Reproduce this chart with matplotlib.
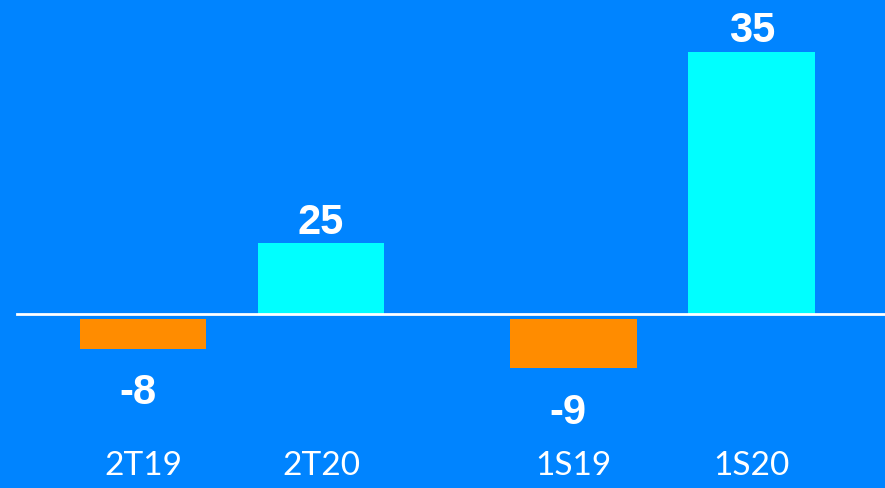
import matplotlib
matplotlib.use("Agg")
import matplotlib.pyplot as plt
import matplotlib.transforms as mtransforms

# periods and values shown on the chart
periods = ['2T19', '2T20', '1S19', '1S20']
values = [-8, 25, -9, 35]
# bar lengths as drawn in the picture (same units as the 35 bar)
bar_heights = [-3.9, 9.5, -6.5, 35]

bg = '#0084FF'
colors = ['#FF8C00' if v < 0 else '#00FFFF' for v in values]

fig = plt.figure(figsize=(8.85, 4.89), dpi=100, facecolor=bg)
ax = fig.add_axes([0, 0, 1, 1])
ax.set_facecolor(bg)

# two groups of two bars, with a wider gap between the groups
xpos = [i + (0.42 if i >= 2 else 0) for i in range(len(periods))]

# negative bars hang a little below the zero line
bottoms = [-0.65 if h < 0 else 0 for h in bar_heights]
ax.bar(xpos, bar_heights, width=0.71, bottom=bottoms, color=colors, zorder=2)
ax.axhline(0, xmin=0.019, xmax=1, color='white', lw=2, zorder=3)

for x, h, b, v in zip(xpos, bar_heights, bottoms, values):
    if h >= 0:
        ax.annotate(str(v), (x, h + b), xytext=(0, 1), textcoords='offset points',
                    ha='center', va='bottom', color='white', fontsize=30,
                    fontweight='bold', family='Liberation Sans')
    else:
        ax.annotate(str(v), (x - 0.03, h + b), xytext=(0, -17), textcoords='offset points',
                    ha='center', va='top', color='white', fontsize=30,
                    fontweight='bold', family='Liberation Sans')

trans = mtransforms.blended_transform_factory(ax.transData, ax.transAxes)
for x, p in zip(xpos, periods):
    ax.text(x, 0.047, p, transform=trans, ha='center', va='center',
            color='white', fontsize=24, family='Lato')

ax.set_xlim(-0.803, 4.169)
ax.set_ylim(-23.1, 42.0)
ax.axis('off')

fig.savefig('out.png', dpi=100, facecolor=bg)
